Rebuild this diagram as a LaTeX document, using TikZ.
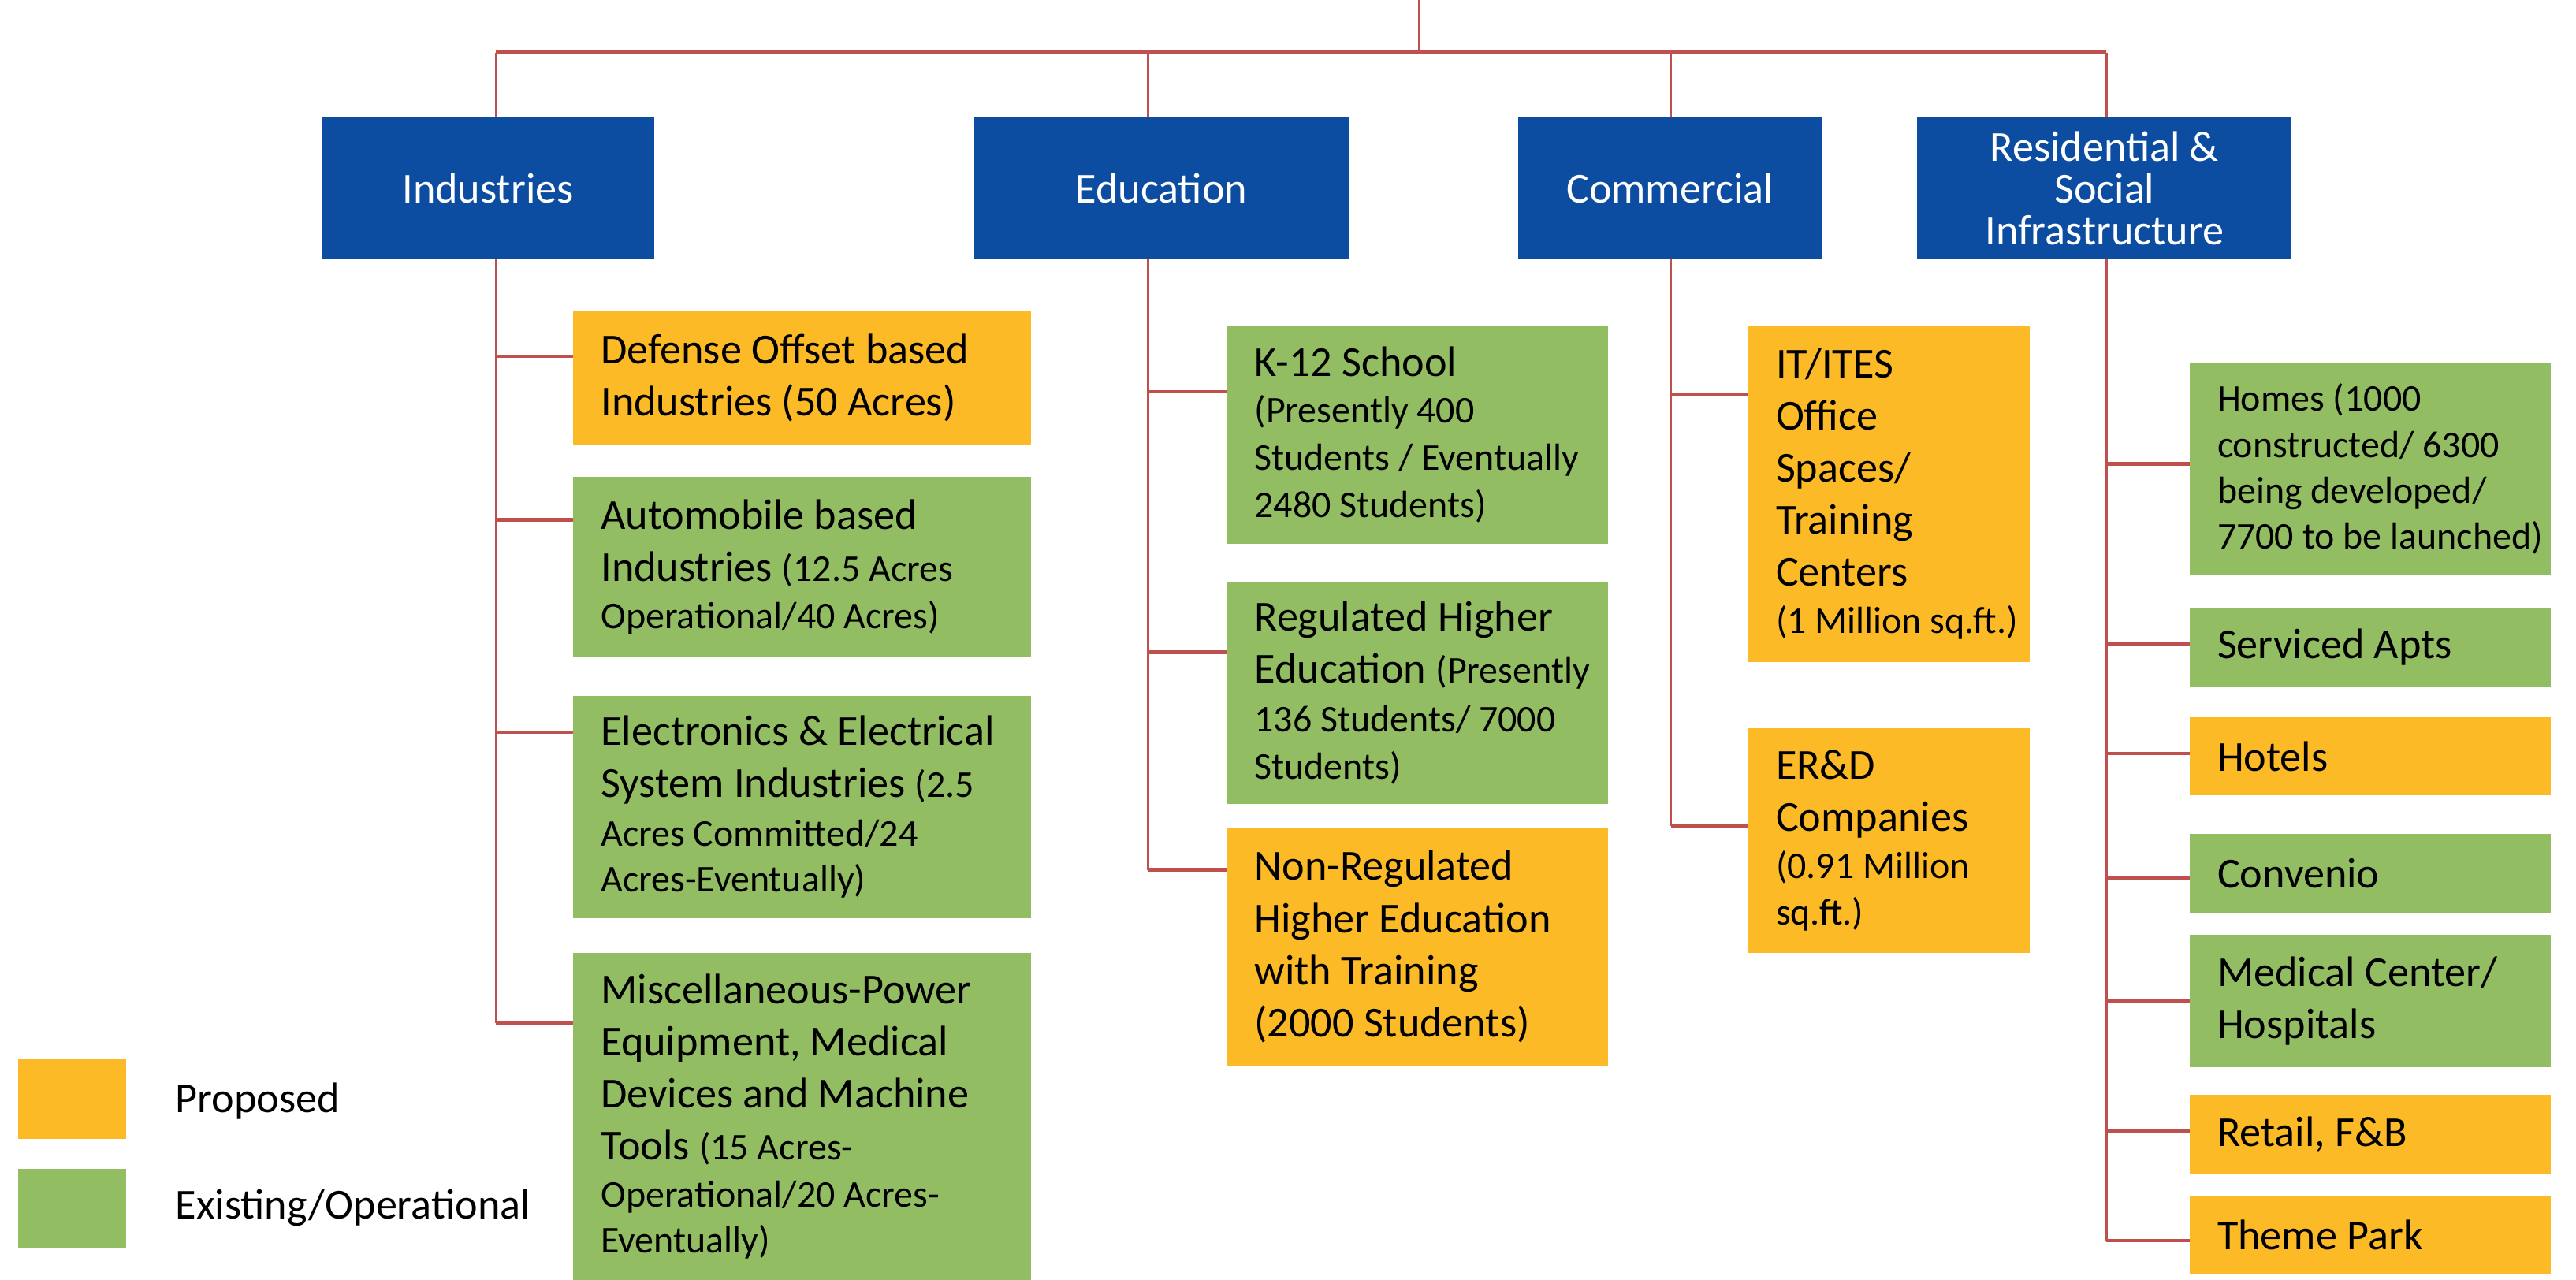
\documentclass[tikz,border=0pt]{standalone}
\usepackage{fontspec}
\setmainfont{Carlito}

\definecolor{hdrblue}{RGB}{12,77,162}
\definecolor{propo}{RGB}{253,186,39}
\definecolor{exist}{RGB}{147,189,98}
\definecolor{link}{RGB}{192,80,77}

\newcommand\bigf{\fontsize{26}{31.7}\selectfont}
\newcommand\smf{\fontsize{23}{28}\selectfont}

\tikzset{
  blk/.style={rectangle, draw=none, inner sep=0pt, outer sep=0pt},
  hdr/.style={blk, fill=hdrblue, text=white, align=center, font=\bigf},
  pro/.style={blk, fill=propo},
  ext/.style={blk, fill=exist},
  lbl/.style={inner sep=0pt, outer sep=0pt, align=left, anchor=west, font=\bigf, text=black},
  trunk/.style={draw=link, line width=1.5pt},
  branch/.style={draw=link, line width=2.2pt},
}

% #1 name, #2 box style, #3 label options, #4 left, #5 top, #6 right, #7 bottom, #8 text
\newcommand\place[8]{%
  \node[#2, anchor=north west, minimum width={(#6-#4)*1pt}, minimum height={(#7-#5)*1pt}] (#1) at (#4,#5) {};
  \node[lbl, #3] (#1-t) at ([xshift=17pt]#1.west) {#8};}

\begin{document}
\begin{tikzpicture}[x=1pt, y=-1pt]
\useasboundingbox (0,0) rectangle (1568,779);

% category headers
\node[hdr, anchor=north west, minimum width=202pt, minimum height=85.8pt] (ind) at (196,71.6) {Industries};
\node[hdr, anchor=north west, minimum width=228.2pt, minimum height=85.8pt] (edu) at (592.8,71.6) {Education};
\node[hdr, anchor=north west, minimum width=185pt, minimum height=85.8pt] (com) at (924,71.6) {Commercial};
\node[hdr, anchor=north west, minimum width=228pt, minimum height=85.8pt, font=\fontsize{26}{25.5}\selectfont] (res) at (1167,71.6) {Residential \&\\Social\\Infrastructure};

% top bus
\coordinate (root) at (864,0);
\coordinate (bus) at (864,32);
\coordinate (indx) at (302,32);
\coordinate (edux) at (699,32);
\coordinate (comx) at (1017,32);
\coordinate (resx) at (1282,32);
\draw[trunk] (root) -- (bus);
\draw[branch] (indx) -- (resx);
\draw[trunk] (indx) -- (indx |- ind.north);
\draw[trunk] (edux) -- (edux |- edu.north);
\draw[trunk] (comx) -- (comx |- com.north);
\draw[trunk] (resx) -- (resx |- res.north);

% Industries
\place{def}{pro}{}{348.8}{189.6}{627.6}{270.7}{Defense Offset based\\Industries (50 Acres)}
\place{auto}{ext}{}{348.8}{290.4}{627.6}{400}{Automobile based\\Industries {\smf (12.5 Acres}\\[-3pt]{\smf Operational/40 Acres)}}
\place{elec}{ext}{}{348.8}{423.5}{627.6}{558.8}{Electronics \& Electrical\\System Industries {\smf (2.5}\\[-2pt]{\smf Acres Committed/24}\\[-4pt]{\smf Acres-Eventually)}}
\place{misc}{ext}{}{348.8}{580.2}{627.6}{779}{Miscellaneous-Power\\Equipment, Medical\\Devices and Machine\\Tools {\smf (15 Acres-}\\[-3pt]{\smf Operational/20 Acres-}\\[-4pt]{\smf Eventually)}}

% Education
\place{k12}{ext}{}{746.6}{198}{978.9}{331}{K-12 School\\[-3pt]{\smf (Presently 400}\\[-3pt]{\smf Students / Eventually}\\[-3pt]{\smf 2480 Students)}}
\place{reg}{ext}{}{746.6}{354}{978.9}{489.6}{Regulated Higher\\Education {\smf (Presently}\\[-2pt]{\smf 136 Students/ 7000}\\[-3pt]{\smf Students)}}
\place{nonreg}{pro}{}{746.6}{504}{978.9}{648.5}{Non-Regulated\\Higher Education\\with Training\\(2000 Students)}

% Commercial
\place{it}{pro}{}{1064}{198}{1235.7}{402.9}{IT/ITES\\Office\\Spaces/\\Training\\Centers\\[-3pt]{\smf (1 Million sq.ft.)}}
\place{erd}{pro}{}{1064}{443.3}{1235.7}{580}{ER\&D\\Companies\\[-3pt]{\smf (0.91 Million}\\[-3pt]{\smf sq.ft.)}}

% Residential & social infrastructure
\place{homes}{ext}{font=\smf}{1332.7}{221}{1552.5}{350}{Homes (1000\\constructed/ 6300\\being developed/\\7700 to be launched)}
\place{serv}{ext}{}{1332.7}{370}{1552.5}{418}{Serviced Apts}
\place{hotel}{pro}{}{1332.7}{436.4}{1552.5}{484.3}{Hotels}
\place{conv}{ext}{}{1332.7}{507.6}{1552.5}{555.6}{Convenio}
\place{med}{ext}{}{1332.7}{569}{1552.5}{649.8}{Medical Center/\\Hospitals}
\place{retail}{pro}{}{1332.7}{666.4}{1552.5}{714.3}{Retail, F\&B}
\place{theme}{pro}{}{1332.7}{728}{1552.5}{775.7}{Theme Park}

% trunks below the headers
\draw[trunk] (indx |- ind.south) -- (indx |- 0,622.6);
\draw[trunk] (edux |- edu.south) -- (edux |- 0,529.5);
\draw[trunk] (comx |- com.south) -- (comx |- 0,503);
\draw[trunk] (resx |- res.south) -- (resx |- 0,755.2);

% branches to the items
\draw[branch] (indx |- 0,216.9) -- (def.west |- 0,216.9);
\draw[branch] (indx |- 0,316.5) -- (auto.west |- 0,316.5);
\draw[branch] (indx |- 0,445.7) -- (elec.west |- 0,445.7);
\draw[branch] (indx |- 0,622.6) -- (misc.west |- 0,622.6);
\draw[branch] (edux |- 0,238.4) -- (k12.west |- 0,238.4);
\draw[branch] (edux |- 0,397) -- (reg.west |- 0,397);
\draw[branch] (edux |- 0,529.5) -- (nonreg.west |- 0,529.5);
\draw[branch] (comx |- 0,240) -- (it.west |- 0,240);
\draw[branch] (comx |- 0,503) -- (erd.west |- 0,503);
\draw[branch] (resx |- 0,282.5) -- (homes.west |- 0,282.5);
\draw[branch] (resx |- 0,392) -- (serv.west |- 0,392);
\draw[branch] (resx |- 0,458.7) -- (hotel.west |- 0,458.7);
\draw[branch] (resx |- 0,534.8) -- (conv.west |- 0,534.8);
\draw[branch] (resx |- 0,609.5) -- (med.west |- 0,609.5);
\draw[branch] (resx |- 0,688.8) -- (retail.west |- 0,688.8);
\draw[branch] (resx |- 0,755.2) -- (theme.west |- 0,755.2);

% legend
\node[pro, anchor=north west, minimum width=66.1pt, minimum height=48.8pt] (keyp) at (10.9,644.5) {};
\node[ext, anchor=north west, minimum width=66.1pt, minimum height=48pt] (keye) at (10.9,711.4) {};
\node[lbl, anchor=base west] (keyp-t) at (106.9,677.3) {Proposed};
\node[lbl, anchor=base west] (keye-t) at (106.9,742.1) {Existing/Operational};
\end{tikzpicture}
\end{document}
